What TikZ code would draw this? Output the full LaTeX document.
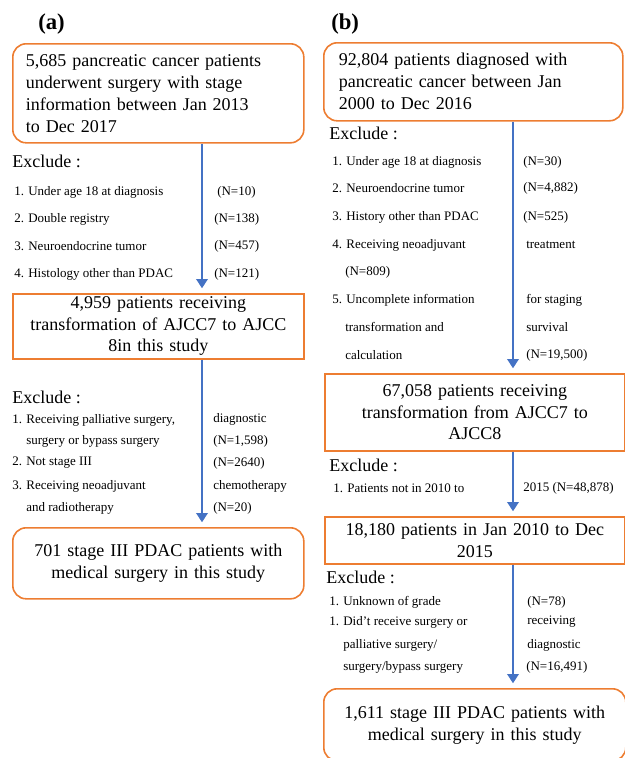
\documentclass[tikz,border=0pt]{standalone}
\usepackage{fontspec}
\setmainfont{Liberation Serif}
\usetikzlibrary{arrows.meta}
\definecolor{boxorange}{RGB}{237,125,49}
\definecolor{flowblue}{RGB}{68,114,196}

\begin{document}
\begin{tikzpicture}[x=0.75pt,y=0.75pt,yscale=-1,xscale=1,
  rbox/.style={draw=boxorange,line width=1.2pt,rounded corners=10pt,anchor=north west,inner sep=0pt,font=\fontsize{13.5}{16.5}\selectfont},
  sbox/.style={draw=boxorange,line width=1.2pt,anchor=north west,inner sep=0pt,font=\fontsize{13.5}{16.25}\selectfont},
  excl/.style={anchor=west,inner sep=0.75pt,font=\fontsize{13.5}{16}\selectfont},
  item/.style={anchor=west,inner sep=0.75pt,font=\fontsize{9.75}{11}\selectfont},
  panel/.style={anchor=west,inner sep=0.75pt,font=\fontsize{17}{20}\bfseries\selectfont},
  flow/.style={draw=flowblue,line width=2pt,-{Triangle[width=8.5pt,length=7pt]},shorten >=3.5pt}]
\useasboundingbox (0,0) rectangle (625,758);

% Text Node
\node [panel] (labA) at (37,24) {(a)};
% Text Node
\node [panel] (labB) at (330,24) {(b)};

%Rounded Rect
\node [rbox,align=left,inner xsep=9.75pt,text width=198.75pt,minimum height=74.25pt] (boxAa) at (12,43) {5,685 pancreatic cancer patients\\underwent surgery with stage\\information between Jan 2013\\to Dec 2017};
%Shape: Rectangle
\node [sbox,align=center,text width=218.25pt,minimum height=48.75pt] (boxAb) at (12,293) {4,959 patients receiving\\transformation of AJCC7 to AJCC\\8in this study};
%Rounded Rect
\node [rbox,align=center,text width=218.25pt,minimum height=53.25pt] (boxAc) at (12,527) {701 stage III PDAC patients with\\medical surgery in this study};

%Rounded Rect
\node [rbox,align=left,inner xsep=11.25pt,text width=201.75pt,minimum height=58.5pt] (boxBa) at (323,42) {92,804 patients diagnosed with\\pancreatic cancer between Jan\\2000 to Dec 2016};
%Shape: Rectangle
\node [sbox,align=center,text width=225pt,minimum height=57.75pt] (boxBb) at (324,373) {67,058 patients receiving\\transformation from AJCC7 to\\AJCC8};
%Shape: Rectangle
\node [sbox,align=center,text width=225pt,minimum height=35.25pt] (boxBc) at (324,516) {18,180 patients in Jan 2010 to Dec\\2015};
%Rounded Rect
\node [rbox,align=center,text width=226.5pt,minimum height=54pt] (boxBd) at (323,688) {1,611 stage III PDAC patients with\\medical surgery in this study};

\coordinate (axA) at (202,0);
\coordinate (axB) at (513,0);

%Straight Lines
\draw [flow] (boxAa.south -| axA) -- (boxAb.north -| axA);
%Straight Lines
\draw [flow] (boxAb.south -| axA) -- (boxAc.north -| axA);
%Straight Lines
\draw [flow] (boxBa.south -| axB) -- (boxBb.north -| axB);
%Straight Lines
\draw [flow] (boxBb.south -| axB) -- (boxBc.north -| axB);
%Straight Lines
\draw [flow] (boxBc.south -| axB) -- (boxBd.north -| axB);

% Text Node
\node [excl] (exA1) at (11,161) {Exclude :};
\node [item] (itA1) at (13,192) {1. Under age 18 at diagnosis};
\node [item] (nA1) at (216,192) {(N=10)};
\node [item] (itA2) at (13,219) {2. Double registry};
\node [item] (nA2) at (213,219) {(N=138)};
\node [item] (itA3) at (13,246) {3. Neuroendocrine tumor};
\node [item] (nA3) at (213,246) {(N=457)};
\node [item] (itA4) at (13,274) {4. Histology other than PDAC};
\node [item] (nA4) at (213,274) {(N=121)};

% Text Node
\node [excl] (exA2) at (11,397) {Exclude :};
\node [item] (itA5) at (11,420) {1. Receiving palliative surgery,};
\node [item] (nA5) at (212,419) {diagnostic};
\node [item] (itA6) at (25,441) {surgery or bypass surgery};
\node [item] (nA6) at (212,441) {(N=1,598)};
\node [item] (itA7) at (11,463) {2. Not stage III};
\node [item] (nA7) at (212,463) {(N=2640)};
\node [item] (itA8) at (11,486) {3. Receiving neoadjuvant};
\node [item] (nA8) at (212,486) {chemotherapy};
\node [item] (itA9) at (25,508) {and radiotherapy};
\node [item] (nA9) at (212,508) {(N=20)};

% Text Node
\node [excl] (exB1) at (328,133) {Exclude :};
\node [item] (itB1) at (331,162) {1. Under age 18 at diagnosis};
\node [item] (nB1) at (522,162) {(N=30)};
\node [item] (itB2) at (331,188) {2. Neuroendocrine tumor};
\node [item] (nB2) at (522,188) {(N=4,882)};
\node [item] (itB3) at (331,217) {3. History other than PDAC};
\node [item] (nB3) at (522,217) {(N=525)};
\node [item] (itB4) at (331,245) {4. Receiving neoadjuvant};
\node [item] (nB4) at (525,245) {treatment};
\node [item] (itB5) at (344,272) {(N=809)};
\node [item] (itB6) at (331,300) {5. Uncomplete information};
\node [item] (nB6) at (525,300) {for staging};
\node [item] (itB7) at (344,327) {transformation and};
\node [item] (nB7) at (525,327) {survival};
\node [item] (itB8) at (344,355) {calculation};
\node [item] (nB8) at (525,355) {(N=19,500)};

% Text Node
\node [excl] (exB2) at (328,465) {Exclude :};
\node [item] (itB9) at (332,488) {1. Patients not in 2010 to};
\node [item] (nB9) at (522,488) {2015 (N=48,878)};

% Text Node
\node [excl] (exB3) at (325,577) {Exclude :};
\node [item] (itB10) at (328,602) {1. Unknown of grade};
\node [item] (nB10) at (526,602) {(N=78)};
\node [item] (itB11) at (328,622) {1. Did’t receive surgery or};
\node [item] (nB11) at (526,622) {receiving};
\node [item] (itB12) at (342,645) {palliative surgery/};
\node [item] (nB12) at (526,645) {diagnostic};
\node [item] (itB13) at (342,667) {surgery/bypass surgery};
\node [item] (nB13) at (525,667) {(N=16,491)};

\end{tikzpicture}
\end{document}
